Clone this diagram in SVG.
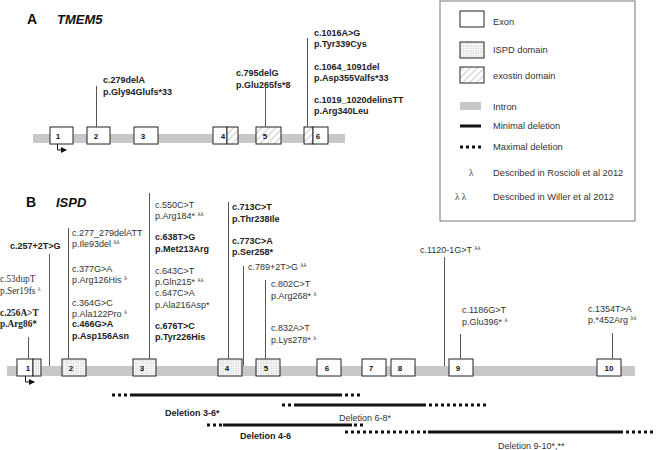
<svg xmlns="http://www.w3.org/2000/svg" width="656" height="450" viewBox="0 0 656 450">
<defs>
<pattern id="hatch" width="5" height="5" patternUnits="userSpaceOnUse" patternTransform="rotate(45)">
<rect width="5" height="5" fill="#fff"/>
<line x1="0" y1="0" x2="0" y2="5" stroke="#bdbdbd" stroke-width="1.6"/>
</pattern>
<pattern id="dots" width="2.5" height="2.5" patternUnits="userSpaceOnUse">
<rect width="2.5" height="2.5" fill="#fafafa"/>
<rect x="0.5" y="0.5" width="0.9" height="0.9" fill="#9a9a9a"/>
</pattern>
<marker id="arr" viewBox="0 0 6 6" refX="5" refY="3" markerWidth="6" markerHeight="6" orient="auto">
<path d="M0,0 L6,3 L0,6 z" fill="#111"/>
</marker>
</defs>
<style>
.ex{stroke:#222;stroke-width:1;fill:#fff}
.hx{stroke:#222;stroke-width:1;fill:url(#hatch)}
.dx{stroke:#222;stroke-width:1;fill:url(#dots)}
.num{font-family:"Liberation Sans",Arial,sans-serif;font-size:8px;font-weight:bold;fill:#111;text-anchor:middle}
.intr{fill:#c8c8c8}
.ln{stroke:#555;stroke-width:1;fill:none}
.la{font-family:"Liberation Sans",Arial,sans-serif;font-size:9px;font-weight:bold;fill:#222}
.lb{font-family:"Liberation Sans",Arial,sans-serif;font-size:9px;fill:#333}
.lbb{font-family:"Liberation Sans",Arial,sans-serif;font-size:9px;font-weight:bold;fill:#222}
.ser{font-family:"Liberation Serif","Times New Roman",serif;font-size:9.3px;fill:#333}
.serb{font-family:"Liberation Serif","Times New Roman",serif;font-size:9.3px;font-weight:bold;fill:#222}
.lam{font-size:6px}
.ttl{font-family:"Liberation Sans",Arial,sans-serif;font-size:14px;font-weight:bold;fill:#111}
.gene{font-family:"Liberation Sans",Arial,sans-serif;font-size:13px;font-weight:bold;font-style:italic;fill:#111}
.leg{font-family:"Liberation Sans",Arial,sans-serif;font-size:9.3px;fill:#333}
.solid{stroke:#111;stroke-width:3;fill:none}
.dot{stroke:#111;stroke-width:3;stroke-dasharray:3 3;fill:none}
</style>

<!-- Panel A -->
<text class="ttl" x="27" y="24">A</text>
<text class="gene" x="57" y="24">TMEM5</text>
<rect class="intr" x="33" y="134" width="312" height="9"/>
<g id="A-exon1"><rect class="ex" x="50" y="127" width="23" height="17"/><text class="num" x="58" y="139">1</text></g>
<g id="A-exon2"><rect class="ex" x="87" y="127" width="23" height="17"/><text class="num" x="96" y="139">2</text></g>
<g id="A-exon3"><rect class="ex" x="134" y="127" width="24" height="17"/><text class="num" x="143" y="139">3</text></g>
<g id="A-exon4"><rect class="ex" x="213" y="127" width="14" height="17"/><rect class="hx" x="227" y="127" width="11" height="17"/><text class="num" x="223" y="139">4</text></g>
<g id="A-exon5"><rect class="hx" x="256" y="127" width="25" height="17"/><text class="num" x="265" y="139">5</text></g>
<g id="A-exon6"><rect class="hx" x="304" y="127" width="9" height="17"/><rect class="ex" x="313" y="127" width="15" height="17"/><text class="num" x="318" y="139">6</text></g>
<path d="M57.5,144 V150 H66" stroke="#111" stroke-width="1" fill="none" marker-end="url(#arr)"/>

<g id="A-labels">
<text class="la" x="103" y="83">c.279delA</text>
<text class="la" x="103" y="95">p.Gly94Glufs*33</text>
<text class="la" x="236" y="76">c.795delG</text>
<text class="la" x="236" y="88">p.Glu265fs*8</text>
<text class="la" x="314" y="36">c.1016A&gt;G</text>
<text class="la" x="314" y="47">p.Tyr339Cys</text>
<text class="la" x="314" y="70">c.1064_1091del</text>
<text class="la" x="314" y="81">p.Asp355Valfs*33</text>
<text class="la" x="314" y="103">c.1019_1020delinsTT</text>
<text class="la" x="314" y="114">p.Arg340Leu</text>
</g>

<!-- Legend -->
<g id="legend">
<rect x="440" y="1" width="195" height="220" fill="#fff" stroke="#777" stroke-width="1"/>
<rect class="ex" x="460" y="11" width="24" height="16"/>
<text class="leg" x="493" y="25">Exon</text>
<rect class="dx" x="460" y="42" width="24" height="16"/>
<text class="leg" x="493" y="53">ISPD domain</text>
<rect class="hx" x="460" y="67" width="24" height="16"/>
<text class="leg" x="493" y="79">exostin domain</text>
<rect class="intr" x="460" y="102" width="21" height="8"/>
<text class="leg" x="493" y="110">Intron</text>
<line class="solid" x1="460" y1="126" x2="481" y2="126"/>
<text class="leg" x="493" y="129">Minimal deletion</text>
<line class="dot" x1="460" y1="147" x2="482" y2="147" stroke-dasharray="2.5 3.2" stroke-width="2.5"/>
<text class="leg" x="493" y="150">Maximal deletion</text>
<text class="ser" x="469" y="176" font-size="9">λ</text>
<text class="leg" x="493" y="176">Described in Roscioli et al 2012</text>
<text class="ser" x="455" y="200" font-size="9">λ λ</text>
<text class="leg" x="493" y="200">Described in Willer et al 2012</text>
</g>

<!-- Panel B -->
<text class="ttl" x="26" y="207">B</text>
<text class="gene" x="56" y="207">ISPD</text>
<rect class="intr" x="7" y="366" width="628" height="10"/>
<g id="B-exon1"><rect class="ex" x="17" y="359" width="16" height="17"/><rect class="dx" x="33" y="359" width="8" height="17"/><text class="num" x="28" y="371">1</text></g>
<g id="B-exon2"><rect class="dx" x="62" y="359" width="24" height="17"/><text class="num" x="71" y="371">2</text></g>
<g id="B-exon3"><rect class="dx" x="133" y="359" width="23" height="17"/><text class="num" x="142" y="371">3</text></g>
<g id="B-exon4"><rect class="dx" x="218" y="359" width="24" height="17"/><text class="num" x="227" y="371">4</text></g>
<g id="B-exon5"><rect class="dx" x="256" y="359" width="24" height="17"/><text class="num" x="266" y="371">5</text></g>
<g id="B-exon6"><rect class="ex" x="317" y="359" width="24" height="17"/><text class="num" x="327" y="371">6</text></g>
<g id="B-exon7"><rect class="ex" x="362" y="359" width="24" height="17"/><text class="num" x="371" y="371">7</text></g>
<g id="B-exon8"><rect class="ex" x="391" y="359" width="24" height="17"/><text class="num" x="400" y="371">8</text></g>
<g id="B-exon9"><rect class="ex" x="449" y="359" width="24" height="17"/><text class="num" x="458" y="371">9</text></g>
<g id="B-exon10"><rect class="ex" x="597" y="359" width="24" height="17"/><text class="num" x="609" y="371">10</text></g>
<path d="M25.5,376 V382 H34" stroke="#111" stroke-width="1" fill="none" marker-end="url(#arr)"/>

<!-- Connectors -->
<g id="connectors">
<line class="ln" x1="96.5" y1="86" x2="96.5" y2="127"/>
<line class="ln" x1="265.5" y1="86" x2="265.5" y2="127"/>
<line class="ln" x1="307.5" y1="38" x2="307.5" y2="127"/>
<line class="ln" x1="28.5" y1="337" x2="28.5" y2="359"/>
<line class="ln" x1="49.5" y1="254" x2="49.5" y2="366"/>
<line class="ln" x1="68.5" y1="228" x2="68.5" y2="359"/>
<line class="ln" x1="149.5" y1="193" x2="149.5" y2="359"/>
<line class="ln" x1="228.5" y1="202" x2="228.5" y2="359"/>
<line class="ln" x1="243.5" y1="266" x2="243.5" y2="366"/>
<line class="ln" x1="265.5" y1="280" x2="265.5" y2="359"/>
<line class="ln" x1="444.5" y1="257" x2="444.5" y2="366"/>
<line class="ln" x1="460.5" y1="334" x2="460.5" y2="359"/>
<line class="ln" x1="612.5" y1="333" x2="612.5" y2="359"/>
</g>

<g id="B-labels">
<text class="lbb" x="10" y="249">c.257+2T&gt;G</text>
<text class="ser" x="0" y="282">c.53dupT</text>
<text class="ser" x="0" y="294">p.Ser19fs <tspan class="lam" dy="-3">λ</tspan></text>
<text class="serb" x="0" y="316">c.256A&gt;T</text>
<text class="serb" x="0" y="327">p.Arg86*</text>

<text class="lb" x="72" y="236">c.277_279delATT</text>
<text class="lb" x="72" y="247">p.Ile93del <tspan class="lam" dy="-3">λλ</tspan></text>
<text class="lb" x="72" y="272">c.377G&gt;A</text>
<text class="lb" x="72" y="283">p.Arg126His <tspan class="lam" dy="-3">λ</tspan></text>
<text class="lb" x="72" y="306">c.364G&gt;C</text>
<text class="lb" x="72" y="317">p.Ala122Pro <tspan class="lam" dy="-3">λ</tspan></text>
<text class="lbb" x="72" y="327">c.466G&gt;A</text>
<text class="lbb" x="72" y="339">p.Asp156Asn</text>

<text class="lb" x="155" y="208">c.550C&gt;T</text>
<text class="lb" x="155" y="219">p.Arg184* <tspan class="lam" dy="-3">λλ</tspan></text>
<text class="lbb" x="155" y="240">c.638T&gt;G</text>
<text class="lbb" x="155" y="252">p.Met213Arg</text>
<text class="lb" x="155" y="274">c.643C&gt;T</text>
<text class="lb" x="155" y="285">p.Gln215* <tspan class="lam" dy="-3">λλ</tspan></text>
<text class="lb" x="155" y="296">c.647C&gt;A</text>
<text class="lb" x="155" y="308">p.Ala216Asp*</text>
<text class="lbb" x="155" y="329">c.676T&gt;C</text>
<text class="lbb" x="155" y="340">p.Tyr226His</text>

<text class="lbb" x="232" y="210">c.713C&gt;T</text>
<text class="lbb" x="232" y="222">p.Thr238Ile</text>
<text class="lbb" x="232" y="244">c.773C&gt;A</text>
<text class="lbb" x="232" y="255">p.Ser258*</text>
<text class="lb" x="248" y="270">c.789+2T&gt;G <tspan class="lam" dy="-3">λλ</tspan></text>
<text class="lb" x="271" y="287">c.802C&gt;T</text>
<text class="lb" x="271" y="299">p.Arg268* <tspan class="lam" dy="-3">λ</tspan></text>
<text class="lb" x="271" y="331">c.832A&gt;T</text>
<text class="lb" x="271" y="343">p.Lys278* <tspan class="lam" dy="-3">λ</tspan></text>

<text class="lb" x="420" y="253">c.1120-1G&gt;T <tspan class="lam" dy="-3">λλ</tspan></text>
<text class="lb" x="462" y="313">c.1186G&gt;T</text>
<text class="lb" x="462" y="325">p.Glu396* <tspan class="lam" dy="-3">λ</tspan></text>
<text class="lb" x="588" y="312">c.1354T&gt;A</text>
<text class="lb" x="588" y="323">p.*452Arg <tspan class="lam" dy="-3">λλ</tspan></text>
</g>

<!-- Deletions -->
<g id="deletions">
<line class="dot" x1="112" y1="395" x2="133" y2="395"/>
<line class="solid" x1="133" y1="395" x2="342" y2="395"/>
<line class="dot" x1="345" y1="395" x2="360" y2="395"/>
<text class="lbb" x="165" y="416">Deletion 3-6*</text>

<line class="dot" x1="282" y1="405" x2="297" y2="405"/>
<line class="solid" x1="297" y1="405" x2="426" y2="405"/>
<line class="dot" x1="429" y1="405" x2="489" y2="405"/>
<text class="lb" x="339" y="421">Deletion 6-8*</text>

<line class="dot" x1="207" y1="425" x2="222" y2="425"/>
<line class="solid" x1="223" y1="425" x2="352" y2="425"/>
<line class="dot" x1="354" y1="425" x2="366" y2="425"/>
<text class="lbb" x="240" y="439">Deletion 4-6</text>

<line class="dot" x1="345" y1="432" x2="428" y2="432"/>
<line class="solid" x1="428" y1="432" x2="623" y2="432"/>
<line class="dot" x1="626" y1="432" x2="656" y2="432"/>
<text class="lb" x="498" y="449">Deletion 9-10*,**</text>
</g>
</svg>
